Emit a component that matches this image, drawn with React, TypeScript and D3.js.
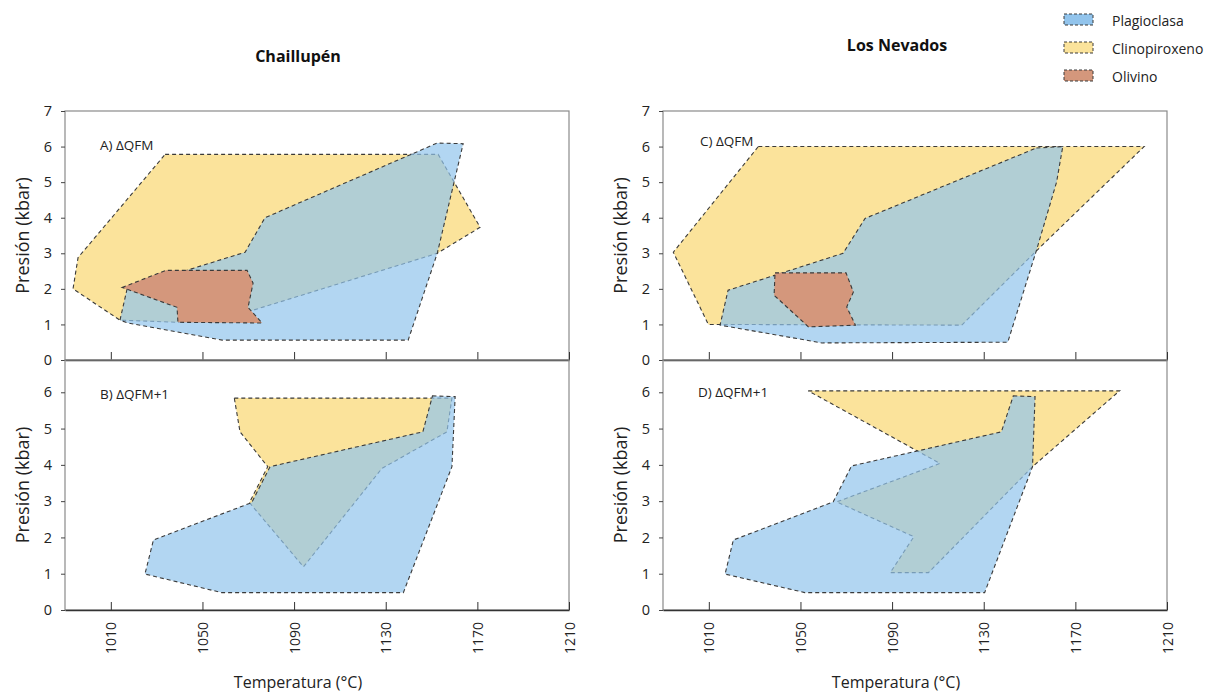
import React, { useEffect, useRef } from "react";
import * as d3 from "d3";

// temperature (°C), pressure (kbar) vertices
const plagA = [[1017.1, 2.0], [1014, 1.12], [1017.5, 1.04], [1058.6, 0.56], [1139.8, 0.56], [1152.5, 3.0], [1163.8, 6.08], [1152.5, 6.1], [1077.3, 4.0], [1068.6, 3.03]];
const cpxA = [[1033.7, 5.78], [1152.9, 5.78], [1171.2, 3.73], [1152.5, 3.0], [1072.1, 1.4], [1039.3, 1.06], [1014, 1.12], [993.5, 2.0], [995.7, 2.88]];
const olA = [[1014.9, 2.04], [1034.1, 2.52], [1069.5, 2.52], [1072.1, 2.16], [1069.9, 1.48], [1076, 1.04], [1039.3, 1.06], [1038.9, 1.48]];

const plagB = [[1150.4, 5.9], [1160.3, 5.88], [1158.9, 3.95], [1137.7, 0.48], [1058.4, 0.48], [1024.9, 0.99], [1028.6, 1.93], [1071.5, 2.96], [1079.5, 3.95], [1146.2, 4.91]];
const cpxB = [[1063.9, 5.84], [1158.9, 5.84], [1156.7, 4.91], [1128.3, 3.9], [1094.1, 1.19], [1070.5, 2.96], [1078.5, 3.95], [1066.4, 4.91]];

const plagC = [[1153, 5.96], [1164.5, 6.0], [1161.8, 5.0], [1153, 3.08], [1140.5, 0.5], [1059.4, 0.48], [1014.9, 0.98], [1018.4, 1.96], [1068.6, 3.0], [1078.2, 3.98]];
const cpxC = [[1031.6, 6.0], [1200, 6.0], [1154.6, 3.17], [1120.4, 0.98], [1009.8, 1.0], [994.5, 3.03]];
const olC = [[1038.9, 2.45], [1069.9, 2.45], [1073.1, 1.91], [1070.2, 1.49], [1074, 0.98], [1053.5, 0.93], [1038.5, 1.82]];

const plagD = [[1142.9, 5.9], [1152.4, 5.88], [1151.3, 3.95], [1130.4, 0.48], [1051.9, 0.48], [1017.1, 0.99], [1020.7, 1.93], [1064.3, 2.98], [1072.3, 3.97], [1137.7, 4.91]];
const cpxD = [[1053.4, 6.04], [1189.3, 6.04], [1151.3, 3.95], [1105.9, 1.03], [1089.2, 1.03], [1099.5, 2.02], [1065.8, 2.98], [1110.9, 4.04]];

const tempTicks = [1010, 1050, 1090, 1130, 1170, 1210];
const presTicksTop = [0, 1, 2, 3, 4, 5, 6, 7];
const presTicksBottom = [0, 1, 2, 3, 4, 5, 6];
const siteNames = ["Chaillupén", "Los Nevados"];
const panelNames = ["A) ΔQFM", "B) ΔQFM+1", "C) ΔQFM", "D) ΔQFM+1"];
const mineralNames = ["Plagioclasa", "Clinopiroxeno", "Olivino"];

const COLORS = { plag: "#92C4EC", cpx: "#FBE39B", ol: "#D4977C" };
const FONT = "'Open Sans', 'Noto Sans', sans-serif";

export default function App() {
  const ref = useRef(null);

  useEffect(() => {
    const svg = d3.select(ref.current);
    svg.selectAll("*").remove();

    const panels = [
      { x0: 65, top: 111, bottom: 360, pmax: 7, ticks: presTicksTop, name: panelNames[0], lx: 100, ly: 150, plag: plagA, cpx: cpxA, ol: olA, labels: false },
      { x0: 65, top: 360, bottom: 610, pmax: 6.89, ticks: presTicksBottom, name: panelNames[1], lx: 100, ly: 399, plag: plagB, cpx: cpxB, ol: null, labels: true },
      { x0: 663, top: 111, bottom: 360, pmax: 7, ticks: presTicksTop, name: panelNames[2], lx: 700, ly: 146, plag: plagC, cpx: cpxC, ol: olC, labels: false },
      { x0: 663, top: 360, bottom: 610, pmax: 6.89, ticks: presTicksBottom, name: panelNames[3], lx: 698, ly: 397, plag: plagD, cpx: cpxD, ol: null, labels: true },
    ];

    panels.forEach((p) => {
      const x = d3.scaleLinear().domain([990, 1210]).range([p.x0, p.x0 + 504]);
      const y = d3.scaleLinear().domain([0, p.pmax]).range([p.bottom, p.top]);
      const shape = d3
        .line()
        .x((d) => x(d[0]))
        .y((d) => y(d[1]))
        .curve(d3.curveLinearClosed);

      svg
        .append("rect")
        .attr("x", p.x0)
        .attr("y", p.top)
        .attr("width", 504)
        .attr("height", p.bottom - p.top)
        .attr("fill", "none")
        .attr("stroke", "#8a8a8a")
        .attr("stroke-width", 1.2);

      const polys = [
        { d: p.cpx, fill: COLORS.cpx, op: 1 },
        { d: p.plag, fill: COLORS.plag, op: 0.7 },
        { d: p.ol, fill: COLORS.ol, op: 1 },
      ];
      polys.forEach((q) => {
        if (!q.d) return;
        svg
          .append("path")
          .attr("d", shape(q.d))
          .attr("fill", q.fill)
          .attr("fill-opacity", q.op)
          .attr("stroke", "#3a3a3a")
          .attr("stroke-width", 1.1)
          .attr("stroke-dasharray", "4,3");
      });

      // x axis, ticks pointing inward
      const xa = svg
        .append("g")
        .attr("transform", `translate(0,${p.bottom})`)
        .call(d3.axisTop(x).tickValues(tempTicks).tickSize(8).tickSizeOuter(0).tickFormat(() => ""));
      xa.select(".domain").attr("stroke", "#333").attr("stroke-width", 1.6);
      xa.selectAll(".tick line").attr("stroke", "#333");

      const ya = svg
        .append("g")
        .attr("transform", `translate(${p.x0},0)`)
        .call(d3.axisLeft(y).tickValues(p.ticks).tickSize(4).tickPadding(9).tickFormat(d3.format("d")));
      ya.select(".domain").remove();
      ya.selectAll(".tick line").attr("stroke", "#444");
      ya.selectAll("text").attr("font-family", FONT).attr("font-size", 14.5).attr("fill", "#222");

      svg
        .append("text")
        .attr("x", p.lx)
        .attr("y", p.ly)
        .attr("font-family", FONT)
        .attr("font-size", 13.5)
        .attr("fill", "#222")
        .text(p.name);

      svg
        .append("text")
        .attr("transform", `translate(${p.x0 - 43},${(p.top + p.bottom) / 2}) rotate(-90)`)
        .attr("text-anchor", "middle")
        .attr("dominant-baseline", "central")
        .attr("font-family", FONT)
        .attr("font-size", 18)
        .attr("fill", "#222")
        .text("Presión (kbar)");

      if (p.labels) {
        svg
          .append("g")
          .selectAll("text")
          .data(tempTicks)
          .join("text")
          .attr("transform", (t) => `translate(${x(t)},638) rotate(-90)`)
          .attr("text-anchor", "middle")
          .attr("dominant-baseline", "central")
          .attr("font-family", FONT)
          .attr("font-size", 14)
          .attr("fill", "#222")
          .text((t) => t);

        svg
          .append("text")
          .attr("x", p.x0 + 233)
          .attr("y", 688)
          .attr("text-anchor", "middle")
          .attr("font-family", FONT)
          .attr("font-size", 16)
          .attr("fill", "#222")
          .text("Temperatura (°C)");
      }
    });

    // site titles
    [[298, 62], [897, 51]].forEach((pos, i) => {
      svg
        .append("text")
        .attr("x", pos[0])
        .attr("y", pos[1])
        .attr("text-anchor", "middle")
        .attr("font-family", FONT)
        .attr("font-weight", "bold")
        .attr("font-size", 16)
        .attr("fill", "#111")
        .text(siteNames[i]);
    });

    // legend
    const legendFill = [COLORS.plag, COLORS.cpx, COLORS.ol];
    const ly = d3.scaleBand().domain(mineralNames).range([12, 96]);
    mineralNames.forEach((m, i) => {
      svg
        .append("rect")
        .attr("x", 1064)
        .attr("y", ly(m) + 2)
        .attr("width", 29)
        .attr("height", 11)
        .attr("fill", legendFill[i])
        .attr("stroke", "#3a3a3a")
        .attr("stroke-width", 1)
        .attr("stroke-dasharray", "3,2");
      svg
        .append("text")
        .attr("x", 1112)
        .attr("y", ly(m) + 8)
        .attr("dominant-baseline", "central")
        .attr("font-family", FONT)
        .attr("font-size", 14)
        .attr("fill", "#222")
        .text(m);
    });
  }, []);

  return (
    <svg
      ref={ref}
      width={1212}
      height={694}
      style={{ position: "absolute", left: 0, top: 0, background: "#fff" }}
    ></svg>
  );
}
